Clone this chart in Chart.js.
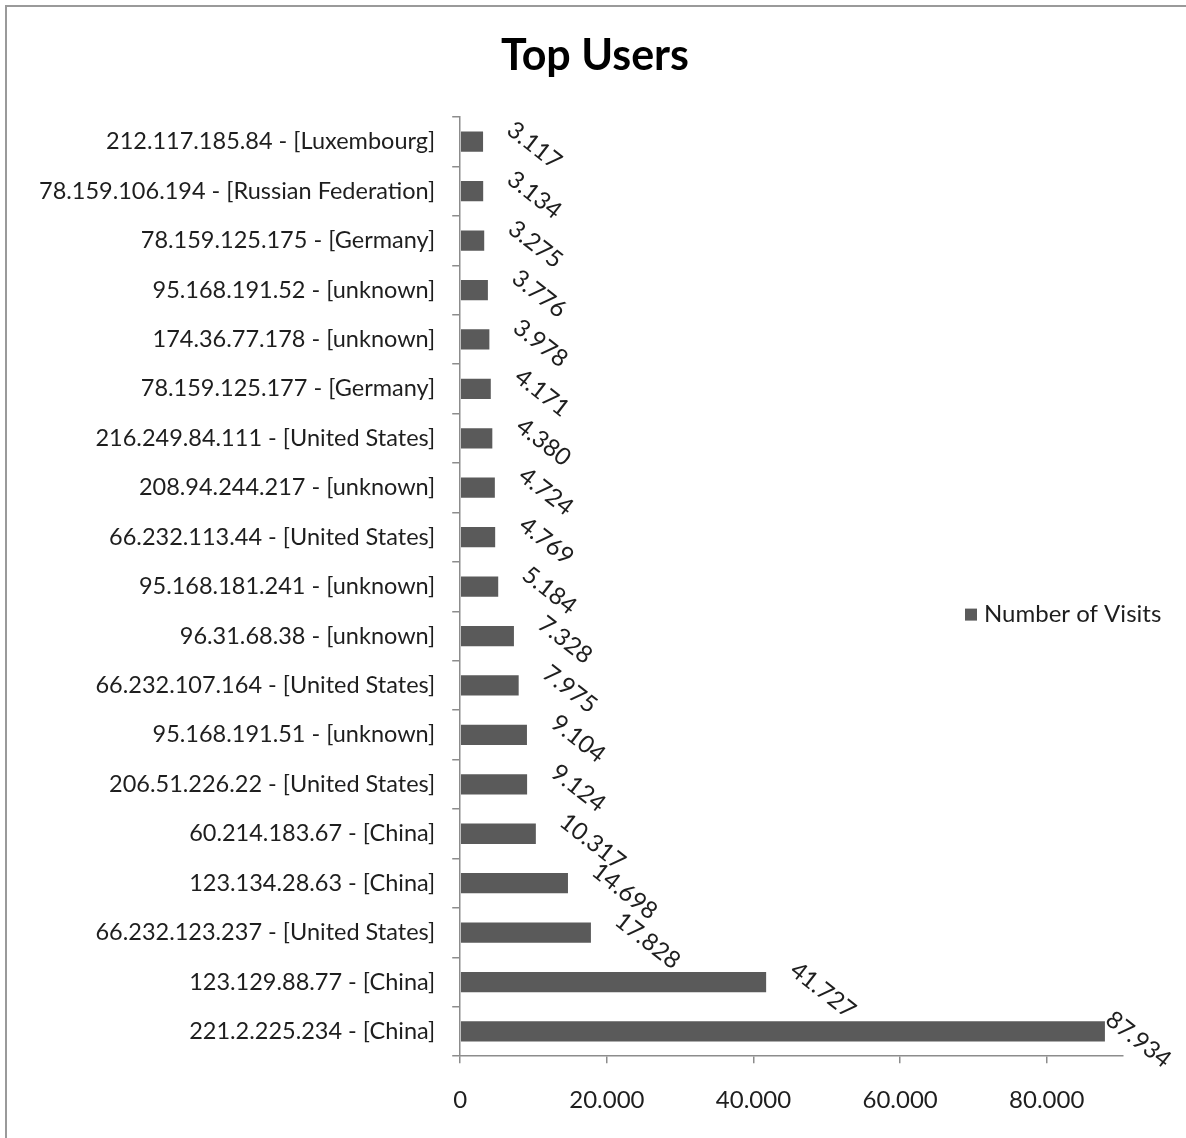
<!DOCTYPE html>
<html>
<head>
<meta charset="utf-8">
<title>Top Users</title>
<script src="https://cdn.jsdelivr.net/npm/chart.js@4.4.1/dist/chart.umd.min.js"></script>
<style>
  html, body { margin: 0; padding: 0; background: #fff; overflow: hidden; }
  #wrap { position: relative; width: 1186px; height: 1138px; }
  canvas { display: block; }
</style>
</head>
<body>
<div id="wrap"><canvas id="topUsers"></canvas></div>
<script>
// visitors, listed top to bottom as they appear on the chart
const hosts = [
    '212.117.185.84 - [Luxembourg]',
    '78.159.106.194 - [Russian Federation]',
    '78.159.125.175 - [Germany]',
    '95.168.191.52 - [unknown]',
    '174.36.77.178 - [unknown]',
    '78.159.125.177 - [Germany]',
    '216.249.84.111 - [United States]',
    '208.94.244.217 - [unknown]',
    '66.232.113.44 - [United States]',
    '95.168.181.241 - [unknown]',
    '96.31.68.38 - [unknown]',
    '66.232.107.164 - [United States]',
    '95.168.191.51 - [unknown]',
    '206.51.226.22 - [United States]',
    '60.214.183.67 - [China]',
    '123.134.28.63 - [China]',
    '66.232.123.237 - [United States]',
    '123.129.88.77 - [China]',
    '221.2.225.234 - [China]'
];
const visits = [3117, 3134, 3275, 3776, 3978, 4171, 4380, 4724, 4769, 5184,
                7328, 7975, 9104, 9124, 10317, 14698, 17828, 41727, 87934];
const xTicks = [0, 20000, 40000, 60000, 80000];
const xMax = 90400;

const FONT = 'Lato, "Open Sans", sans-serif';
const BAR = '#5a5a5a';
const AXIS = '#8c8c8c';
const INK = '#1e1e1e';

// 12345 -> "12.345"
function fmt(v) {
    return String(Math.round(v)).replace(/\B(?=(\d{3})+(?!\d))/g, '.');
}

// white page, thin frame along the top and left edges, and the heading
const frame = {
    id: 'frame',
    beforeDraw(chart) {
        const { ctx } = chart;
        ctx.save();
        ctx.fillStyle = '#fff';
        ctx.fillRect(0, 0, chart.width, chart.height);
        ctx.strokeStyle = '#9a9a9a';
        ctx.lineWidth = 2;
        ctx.beginPath();
        ctx.moveTo(6, chart.height + 5);
        ctx.lineTo(6, 6);
        ctx.lineTo(chart.width + 5, 6);
        ctx.stroke();

        ctx.fillStyle = '#000';
        ctx.font = 'bold 43px ' + FONT;
        ctx.textAlign = 'center';
        ctx.textBaseline = 'middle';
        ctx.fillText('Top Users', chart.width / 2 + 2, 56);
        ctx.restore();
    }
};

// slanted value labels just past the end of each bar
const slantLabels = {
    id: 'slantLabels',
    afterDatasetsDraw(chart) {
        const { ctx } = chart;
        const meta = chart.getDatasetMeta(0);
        const ang = 38 * Math.PI / 180;
        ctx.save();
        ctx.font = '24px ' + FONT;
        ctx.fillStyle = INK;
        ctx.textAlign = 'left';
        ctx.textBaseline = 'middle';
        meta.data.forEach((bar, i) => {
            const txt = fmt(visits[i]);
            const w = ctx.measureText(txt).width;
            let ax = bar.x + 27;
            const ay = bar.y - 15;
            const right = ax + w * Math.cos(ang) + 8;
            if (right > chart.width - 10) ax -= right - (chart.width - 10);
            ctx.save();
            ctx.translate(ax, ay);
            ctx.rotate(ang);
            ctx.fillText(txt, 0, 0);
            ctx.restore();
        });
        ctx.restore();
    }
};

// legend entry sitting inside the plot area on the right
const sideLegend = {
    id: 'sideLegend',
    afterDraw(chart) {
        const { ctx, chartArea } = chart;
        const ds = chart.data.datasets[0];
        const y = (chartArea.top + chartArea.bottom) / 2 + 28;
        const x = 965;
        ctx.save();
        ctx.fillStyle = ds.backgroundColor;
        ctx.fillRect(x, y - 6, 12, 12);
        ctx.font = '24px ' + FONT;
        ctx.fillStyle = INK;
        ctx.textAlign = 'left';
        ctx.textBaseline = 'middle';
        ctx.fillText(ds.label, x + 19, y);
        ctx.restore();
    }
};

new Chart(document.getElementById('topUsers'), {
    type: 'bar',
    data: {
        labels: hosts,
        datasets: [{
            label: 'Number of Visits',
            data: visits,
            backgroundColor: BAR,
            categoryPercentage: 1.0,
            barPercentage: 0.41
        }]
    },
    options: {
        indexAxis: 'y',
        responsive: true,
        maintainAspectRatio: false,
        animation: false,
        layout: { padding: { left: 22, right: 63, top: 117, bottom: 0 } },
        plugins: {
            legend: { display: false },
            tooltip: { enabled: false },
            title: { display: false }
        },
        scales: {
            x: {
                min: 0,
                max: xMax,
                afterBuildTicks(scale) {
                    scale.ticks = xTicks.map(v => ({ value: v }));
                },
                border: { color: AXIS, width: 1.5 },
                grid: { drawOnChartArea: false, color: AXIS, tickLength: 7, lineWidth: 1.5 },
                ticks: {
                    color: INK,
                    padding: 23,
                    maxRotation: 0,
                    font: { family: FONT, size: 24 },
                    callback: v => fmt(v)
                }
            },
            y: {
                border: { color: AXIS, width: 1.5 },
                grid: { drawOnChartArea: false, color: AXIS, tickLength: 8, lineWidth: 1.5, offset: true },
                ticks: {
                    color: INK,
                    padding: 17,
                    autoSkip: false,
                    font: { family: FONT, size: 23.5 }
                }
            }
        }
    },
    plugins: [frame, slantLabels, sideLegend]
});
</script>
</body>
</html>
